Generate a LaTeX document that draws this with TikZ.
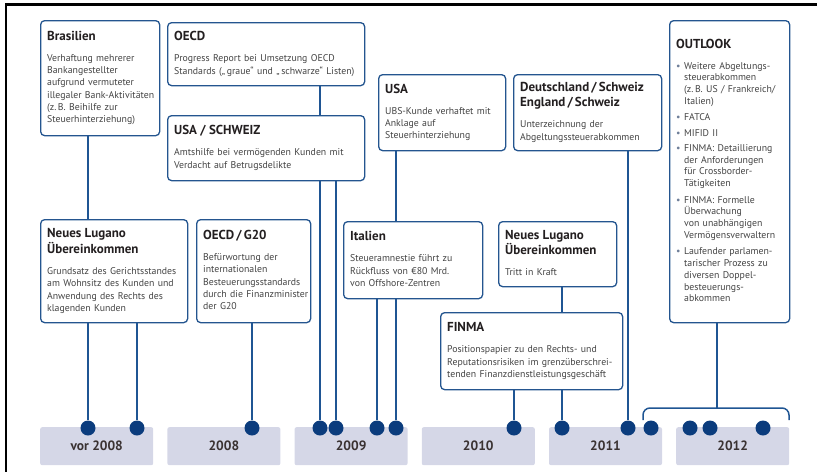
\documentclass[tikz,border=0pt]{standalone}
\usepackage{fontspec}
\setmainfont{PT Sans}

\definecolor{boxblue}{HTML}{24558F}
\definecolor{lineblue}{HTML}{1F5593}
\definecolor{dotblue}{HTML}{0B3C7D}
\definecolor{yearfill}{HTML}{D5D7E7}
\definecolor{yeartext}{HTML}{3A3232}
\definecolor{headblack}{HTML}{231F20}
\definecolor{bodygray}{HTML}{444444}
\definecolor{bulletgray}{HTML}{6F7F99}

% heading and text of an event box, lines broken only at \\
\newcommand{\evhead}[1]{{\fontsize{13}{15}\selectfont\bfseries\color{headblack}\noindent\begin{tabular}[t]{@{}l@{}}#1\end{tabular}\par}\vspace{7pt}}
\newcommand{\evbody}[1]{{\fontsize{9.8}{12.3}\selectfont\color{bodygray}\noindent\begin{tabular}[t]{@{}l@{}}#1\end{tabular}\par}}
% one bullet of the outlook list
\newcommand{\outitem}[1]{{\fontsize{9.8}{11.8}\selectfont\color{bodygray}\noindent
  \makebox[8pt][l]{\color{bulletgray}\textbullet}\begin{tabular}[t]{@{}l@{}}#1\end{tabular}\par}\vspace{3.5pt}}

\begin{document}
\begin{tikzpicture}[x=1pt,y=-1pt,
    evbox/.style={draw=boxblue, line width=1.3pt, rounded corners=4pt, fill=white,
      anchor=north west, inner ysep=0pt, inner xsep=6.5pt, align=left},
    yearbox/.style={fill=yearfill, rounded corners=2pt, minimum width=113pt,
      minimum height=38pt, anchor=north west, inner sep=0pt, text=yeartext,
      font=\fontsize{13.5}{15}\selectfont\bfseries},
    dot/.style={circle, fill=dotblue, minimum size=15pt, inner sep=0pt},
    link/.style={draw=lineblue, line width=1.5pt}]
	\useasboundingbox (0,0) rectangle (817,472);

	% frame on the top and left
	\draw[line width=2.5pt] (6,3) -- (6,472);
	\draw[line width=2.5pt] (5,4.5) -- (817,4.5);

	% the years
	\foreach \i/\yr in {0/vor 2008, 1/2008, 2/2009, 3/2010, 4/2011, 5/2012}
		\node[yearbox] (y\i) at ({40+127.2*\i},427) {\yr};

	% upper row of events
	\node[evbox, text width=106pt, minimum height=115pt] (bra) at (40,20) {%
		\evhead{Brasilien}
		\evbody{Verhaftung mehrerer\\ Bankangestellter\\ aufgrund vermuteter\\ illegaler Bank-Aktivitäten\\ (z.\,B. Beihilfe zur\\ Steuerhinterziehung)}};
	\node[evbox, text width=184pt, minimum height=63pt] (oecd) at (167,22) {%
		\evhead{OECD}
		\evbody{Progress Report bei Umsetzung OECD\\ Standards („\,graue“ und „\,schwarze“ Listen)}};
	\node[evbox, text width=184pt, minimum height=65pt] (usch) at (167,115) {%
		\evhead{USA / SCHWEIZ}
		\evbody{Amtshilfe bei vermögenden Kunden mit\\ Verdacht auf Betrugsdelikte}};
	\node[evbox, text width=114pt, minimum height=76pt] (usa) at (378,74) {%
		\evhead{USA}
		\evbody{UBS-Kunde verhaftet mit\\ Anklage auf\\ Steuerhinterziehung}};
	\node[evbox, text width=135pt, minimum height=76pt] (dch) at (513,74) {%
		\evhead{Deutschland\,/\,Schweiz\\ England\,/\,Schweiz}
		\evbody{Unterzeichnung der\\ Abgeltungssteuerabkommen}};
	\node[evbox, text width=107pt, minimum height=302pt] (outl) at (669,20) {%
		\evhead{OUTLOOK}
		\outitem{Weitere Abgeltungs-\\ steuerabkommen\\ (z.\,B. US / Frankreich/\\ Italien)}
		\outitem{FATCA}
		\outitem{MIFID II}
		\outitem{FINMA: Detaillierung\\ der Anforderungen\\ für Crossborder-\\ Tätigkeiten}
		\outitem{FINMA: Formelle\\ Überwachung\\ von unabhängigen\\ Vermögensverwaltern}
		\outitem{Laufender parlamen-\\ tarischer Prozess zu\\ diversen Doppel-\\ besteuerungs-\\ abkommen}};

	% lower row of events
	\node[evbox, text width=134pt, minimum height=103pt] (nl1) at (40,219) {%
		\evhead{Neues Lugano\\ Übereinkommen}
		\evbody{Grundsatz des Gerichtsstandes\\ am Wohnsitz des Kunden und\\ Anwendung des Rechts des\\ klagenden Kunden}};
	\node[evbox, text width=101pt, minimum height=103pt] (g20) at (196,219) {%
		\evhead{OECD\,/\,G20}
		\evbody{Befürwortung der\\ internationalen\\ Besteuerungsstandards\\ durch die Finanzminister\\ der G20}};
	\node[evbox, text width=126pt, minimum height=77pt] (ita) at (343,221) {%
		\evhead{Italien}
		\evbody{Steueramnestie führt zu\\ Rückfluss von €80 Mrd.\\ von Offshore-Zentren}};
	\node[evbox, text width=105pt, minimum height=65pt] (nl2) at (498,221) {%
		\evhead{Neues Lugano\\ Übereinkommen}
		\evbody{Tritt in Kraft}};
	\node[evbox, text width=169pt, minimum height=77pt] (finma) at (440,312) {%
		\evhead{FINMA}
		\evbody{Positionspapier zu den Rechts- und\\ Reputationsrisiken im grenzüberschrei-\\ tenden Finanzdienstleistungsgeschäft}};

	% dots on the time line
	\foreach \point/\x in {a/88, b/137, c/252, d/320, e/336, f/377, g/396,
	                       h/514, i/562, j/628, k/651, l/690, m/710, n/763}
		\node[dot] (\point) at (\x,428) {};

	% bracket over the outlook dots
	\coordinate (kL) at (643,420);
	\coordinate (kR) at (789,420);
	\coordinate (kT) at (717,408);

	% the connectors
	\draw[link] (bra.south -| a) -- (nl1.north -| a);
	\draw[link] (nl1.south -| a) -- (a);
	\draw[link] (nl1.south -| b) -- (b);
	\draw[link] (g20.south -| c) -- (c);
	\draw[link] (oecd.south -| d) -- (usch.north -| d);
	\draw[link] (usch.south -| d) -- (d);
	\draw[link] (usch.south -| e) -- (e);
	\draw[link] (usa.south -| g) -- (ita.north -| g);
	\draw[link] (ita.south -| f) -- (f);
	\draw[link] (ita.south -| g) -- (g);
	\draw[link] (nl2.south -| i) -- (finma.north -| i);
	\draw[link] (finma.south -| h) -- (h);
	\draw[link] (finma.south -| i) -- (i);
	\draw[link] (dch.south -| j) -- (j);
	\draw[link, rounded corners=7pt] (kL) |- (kT) -| (kR);
	\draw[link] (outl.south -| kT) -- (kT);
\end{tikzpicture}
\end{document}
